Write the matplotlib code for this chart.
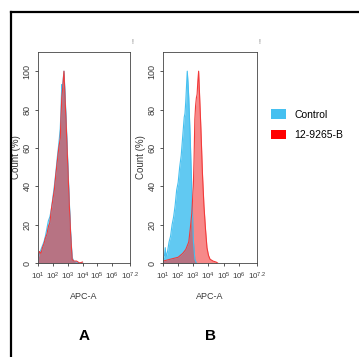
import matplotlib
matplotlib.use('Agg')
import matplotlib.pyplot as plt
import numpy as np
from matplotlib.lines import Line2D
from matplotlib.patches import Patch

plt.rcParams['font.family'] = ['Liberation Sans', 'DejaVu Sans']
plt.rcParams['mathtext.fontset'] = 'custom'
plt.rcParams['mathtext.rm'] = 'Liberation Sans'
plt.rcParams['mathtext.it'] = 'Liberation Sans'
plt.rcParams['mathtext.default'] = 'regular'

# histogram data: APC-A position (log10 exponent) and count (%)
a_ctrl_log = [1.0, 1.1, 1.2, 1.3, 1.4, 1.5, 1.6, 1.7, 1.8, 1.9, 2.0, 2.1, 2.2, 2.3, 2.4, 2.5,
              2.55, 2.6, 2.65, 2.7, 2.75, 2.8, 2.9, 3.0, 3.1, 3.2, 3.3, 3.4, 3.6, 3.8, 4.0]
a_ctrl_cnt = [2, 5, 7, 9, 11, 14, 18, 22, 24, 28, 34, 40, 47, 55, 62, 70,
              80, 93, 91, 96, 100, 92, 74, 54, 34, 16, 3, 1, 0.5, 0, 0]
a_samp_log = [1.0, 1.1, 1.2, 1.3, 1.4, 1.5, 1.6, 1.7, 1.8, 1.9, 2.0, 2.1, 2.2, 2.3, 2.4, 2.5,
              2.55, 2.6, 2.65, 2.7, 2.75, 2.8, 2.9, 3.0, 3.1, 3.2, 3.3, 3.4, 3.6, 3.8, 4.0]
a_samp_cnt = [3, 6, 5, 8, 10, 13, 15, 19, 21, 28, 33, 38, 46, 53, 60, 65,
              76, 86, 90, 95, 100, 90, 72, 52, 32, 15, 2, 1, 1, 0, 0.5]

b_ctrl_log = [1.0, 1.1, 1.15, 1.2, 1.3, 1.4, 1.5, 1.6, 1.7, 1.8, 1.9, 2.0, 2.1, 2.2, 2.3,
              2.4, 2.45, 2.5, 2.55, 2.6, 2.65, 2.7, 2.8, 2.9, 3.0, 3.1, 3.2]
b_ctrl_cnt = [2, 4, 8, 3, 6, 11, 14, 20, 24, 30, 38, 42, 50, 56, 66,
              76, 78, 84, 92, 100, 94, 86, 64, 38, 12, 2, 0]
b_samp_log = [1.0, 1.5, 2.0, 2.3, 2.5, 2.7, 2.8, 2.9, 3.0, 3.05, 3.1, 3.15, 3.2, 3.25, 3.3,
              3.35, 3.4, 3.5, 3.6, 3.7, 3.8, 3.9, 4.0, 4.1, 4.3, 4.5, 4.6]
b_samp_cnt = [1, 2, 3, 5, 7, 11, 18, 26, 40, 55, 75, 82, 86, 88, 95,
              100, 90, 70, 47, 30, 18, 8, 4, 2, 1, 0.5, 0]

xtick_exp = [1, 2, 3, 4, 5, 6, 7.2]
xtick_labels = [r'$10^{1}$', r'$10^{2}$', r'$10^{3}$', r'$10^{4}$', r'$10^{5}$', r'$10^{6}$', r'$10^{7.2}$']
yticks = [0, 20, 40, 60, 80, 100]

blue = '#45c0f0'
red = '#f23a3a'
grey = '#3a3a3a'

fig = plt.figure(figsize=(3.59, 3.57), dpi=100)

# outer frame (top and left only)
fig.add_artist(Line2D([11 / 359, 1.0], [1 - 12 / 357, 1 - 12 / 357], color='black', lw=1.6))
fig.add_artist(Line2D([11 / 359, 11 / 359], [0, 1 - 12 / 357], color='black', lw=1.6))

panels = [
    ([38, 130], a_ctrl_log, a_ctrl_cnt, a_samp_log, a_samp_cnt, 'A'),
    ([163, 257], b_ctrl_log, b_ctrl_cnt, b_samp_log, b_samp_cnt, 'B'),
]
for (x0, x1), cl, cc, sl, sc, letter in panels:
    ax = fig.add_axes([x0 / 359, 94 / 357, (x1 - x0) / 359, 211 / 357])
    cx = 10 ** np.array(cl)
    sx = 10 ** np.array(sl)
    ax.fill_between(cx, cc, color=blue, alpha=0.85, lw=0)
    ax.plot(cx, cc, color=blue, lw=0.8)
    ax.fill_between(sx, sc, color=red, alpha=0.6, lw=0)
    ax.plot(sx, sc, color=red, lw=0.8)
    ax.set_xscale('log')
    ax.set_xlim(10 ** 1, 10 ** 7.2)
    ax.set_ylim(0, 110)
    ax.set_xticks([10 ** e for e in xtick_exp])
    ax.set_xticklabels(xtick_labels)
    ax.set_yticks(yticks)
    ax.set_yticklabels([str(v) for v in yticks], rotation=90, va='center')
    ax.tick_params(labelsize=6.5, length=2.5, width=0.6, colors=grey, pad=2)
    ax.tick_params(axis='x', labelsize=5.8, pad=3)
    ax.tick_params(which='minor', length=1.5, width=0.5, colors=grey)
    ax.set_xlabel('APC-A', fontsize=6.5, color=grey, labelpad=7)
    ax.set_ylabel('Count (%)', fontsize=7, color=grey, labelpad=1)
    for s in ax.spines.values():
        s.set_linewidth(0.6)
        s.set_color('#444444')
    ax.text(1.02, 1.04, '!', transform=ax.transAxes, fontsize=5, color='#777777')
    fig.text((x0 + x1) / 2 / 359, 1 - 336 / 357, letter, ha='center', va='center',
             fontsize=11, fontweight='bold')

handles = [Patch(facecolor=blue, edgecolor='none'), Patch(facecolor='#ff0000', edgecolor='none')]
fig.legend(handles, ['Control', '12-9265-B'], loc='upper left', bbox_to_anchor=(262 / 359, 1 - 100 / 357),
           frameon=False, fontsize=7.5, handlelength=1.4, handleheight=1.0, handletextpad=0.8,
           labelspacing=1.0)

fig.savefig('out.png', dpi=100)
